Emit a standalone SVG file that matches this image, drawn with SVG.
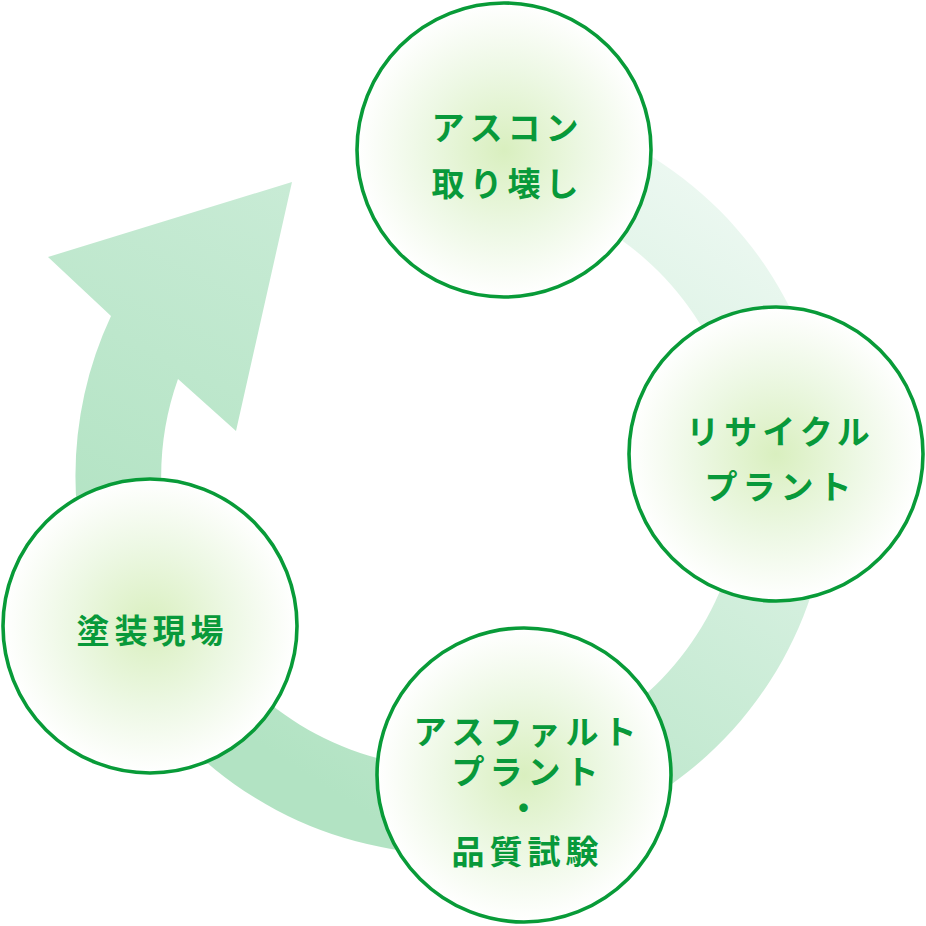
<svg xmlns="http://www.w3.org/2000/svg" width="926" height="926" viewBox="0 0 926 926">
  <defs>
    <linearGradient id="ringGrad" gradientUnits="userSpaceOnUse" x1="720" y1="190" x2="330" y2="790">
      <stop offset="0" stop-color="#ecf8f1"/>
      <stop offset="1" stop-color="#b2e3c3"/>
    </linearGradient>
    <linearGradient id="arrowGrad" gradientUnits="userSpaceOnUse" x1="110" y1="560" x2="290" y2="190">
      <stop offset="0" stop-color="#b2e3c3"/>
      <stop offset="1" stop-color="#c8ebd5"/>
    </linearGradient>
    <radialGradient id="nodeGrad" cx="0.5" cy="0.5" r="0.5">
      <stop offset="0" stop-color="#d9efbf"/>
      <stop offset="0.55" stop-color="#edf8e4"/>
      <stop offset="1" stop-color="#ffffff"/>
    </radialGradient>
  </defs>
  <style>
    .node circle { fill: url(#nodeGrad); stroke: #089b38; stroke-width: 3.6; }
    .node text { font-family: "Noto Sans CJK JP", "Noto Sans", sans-serif; font-weight: 700; font-size: 33px; fill: #08993a; letter-spacing: 5px; text-anchor: middle; }
  </style>
  <rect width="926" height="926" fill="#ffffff"/>
  <g id="connectors">
    <path d="M505.5,103.7 A377,377 0 1 1 111.3,636.3 L188.8,600.2 A291,291 0 1 0 493.5,188.8 Z" fill="url(#ringGrad)"/>
    <path d="M111.3,636.3 A377,377 0 0 1 111,316 L48,257 L292,182 L236,431 L178,379 A291,291 0 0 0 188.8,600.2 Z" fill="url(#arrowGrad)"/>
  </g>
  <g id="node-ascon" class="node">
    <circle cx="504" cy="150" r="147"/>
    <text x="507.5" y="140">アスコン</text>
    <text x="507.5" y="196">取り壊し</text>
  </g>
  <g id="node-recycle" class="node">
    <circle cx="776" cy="454" r="147"/>
    <text x="780.5" y="444">リサイクル</text>
    <text x="780.5" y="499">プラント</text>
  </g>
  <g id="node-asphalt" class="node">
    <circle cx="524" cy="775" r="147"/>
    <text x="527.5" y="744">アスファルト</text>
    <text x="527.5" y="784">プラント</text>
    <text x="526" y="820">・</text>
    <text x="527.5" y="864">品質試験</text>
  </g>
  <g id="node-paint" class="node">
    <circle cx="150" cy="626" r="147"/>
    <text x="152.5" y="643">塗装現場</text>
  </g>
</svg>
